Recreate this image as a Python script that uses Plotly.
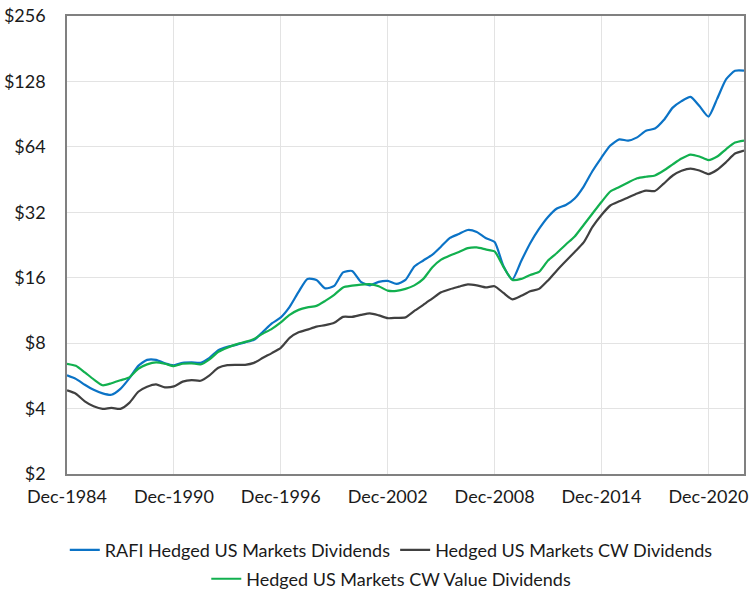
import pandas as pd
import plotly.graph_objects as go

# semi-annual observations, Dec-1984 .. Dec-2022
dates = pd.date_range("1984-12-31", "2022-12-31", freq="6ME")

rafi = [5.69, 5.48, 5.15, 4.88, 4.70, 4.63, 4.93, 5.51, 6.29, 6.70,
        6.70, 6.46, 6.33, 6.50, 6.53, 6.50, 6.85, 7.43, 7.69, 7.86,
        8.07, 8.28, 9.02, 9.86, 10.51, 11.75, 13.77, 15.80, 15.63, 14.29,
        14.67, 16.92, 17.19, 15.31, 14.75, 15.31, 15.47, 14.98, 15.63, 18.03,
        19.21, 20.37, 22.28, 24.38, 25.44, 26.53, 25.98, 24.38, 23.37, 18.13,
        15.72, 19.11, 23.05, 26.82, 30.45, 33.31, 34.58, 37.03, 42.04, 49.55,
        57.15, 64.88, 69.30, 68.43, 70.77, 75.88, 77.67, 85.00, 97.0, 103.9,
        108.7, 98.55, 88.2, 106.7, 131.1, 143.2, 143.5]

cw = [4.85, 4.68, 4.32, 4.10, 3.99, 4.03, 3.99, 4.25, 4.78, 5.04,
      5.17, 5.01, 5.06, 5.32, 5.41, 5.37, 5.69, 6.16, 6.34, 6.36,
      6.36, 6.49, 6.85, 7.20, 7.61, 8.46, 8.97, 9.23, 9.53, 9.68,
      9.92, 10.57, 10.57, 10.79, 10.97, 10.74, 10.42, 10.46, 10.51, 11.26,
      12.00, 12.83, 13.72, 14.17, 14.55, 14.92, 14.75, 14.44, 14.62, 13.62,
      12.72, 13.20, 13.87, 14.21, 15.55, 17.29, 19.11, 21.02, 23.25, 27.39,
      31.10, 34.39, 35.95, 37.43, 39.04, 40.22, 40.09, 43.36, 47.24, 49.65,
      50.87, 49.80, 47.99, 50.23, 54.49, 59.62, 61.54]

cw_value = [6.43, 6.29, 5.87, 5.45, 5.12, 5.23, 5.40, 5.57, 6.10, 6.39,
            6.53, 6.43, 6.27, 6.43, 6.46, 6.39, 6.74, 7.30, 7.63, 7.90,
            8.11, 8.37, 8.85, 9.31, 9.97, 10.79, 11.38, 11.69, 11.87, 12.52,
            13.34, 14.44, 14.70, 14.88, 14.94, 14.62, 13.96, 13.92, 14.21, 14.75,
            15.80, 17.84, 19.38, 20.26, 21.02, 21.88, 22.05, 21.59, 21.13, 17.94,
            15.63, 15.80, 16.48, 17.01, 19.21, 20.80, 22.76, 24.77, 27.98, 31.60,
            35.69, 39.88, 41.83, 43.86, 45.86, 46.64, 47.24, 49.80, 53.18, 56.55,
            58.99, 57.76, 55.66, 57.76, 62.53, 66.98, 68.43]

y_ticks = [2, 4, 8, 16, 32, 64, 128, 256]
x_ticks = ["1984-12-31", "1990-12-31", "1996-12-31", "2002-12-31",
           "2008-12-31", "2014-12-31", "2020-12-31"]
x_labels = ["Dec-1984", "Dec-1990", "Dec-1996", "Dec-2002",
            "Dec-2008", "Dec-2014", "Dec-2020"]

line_shape = dict(shape="spline", smoothing=0.6, width=2.2)

fig = go.Figure()
fig.add_trace(go.Scatter(x=dates, y=rafi, mode="lines", name="RAFI Hedged US Markets Dividends",
                         line=dict(color="#0b73c6", **line_shape), legend="legend"))
fig.add_trace(go.Scatter(x=dates, y=cw, mode="lines", name="Hedged US Markets CW Dividends",
                         line=dict(color="#404040", **line_shape), legend="legend"))
fig.add_trace(go.Scatter(x=dates, y=cw_value, mode="lines", name="Hedged US Markets CW Value Dividends",
                         line=dict(color="#12b04f", **line_shape), legend="legend2"))

fig.update_layout(
    width=751, height=592,
    margin=dict(l=67, r=7, t=16, b=118, autoexpand=False),
    plot_bgcolor="white", paper_bgcolor="white",
    font=dict(family="Lato", size=18, color="#1a1a1a"),
    legend=dict(orientation="h", x=0.479, xanchor="center", y=-0.126, yanchor="top",
                font=dict(size=18), itemwidth=30),
    legend2=dict(orientation="h", x=0.479, xanchor="center", y=-0.189, yanchor="top",
                 font=dict(size=18), itemwidth=30),
    xaxis=dict(type="date", range=["1984-12-31", "2022-12-31"],
               tickvals=x_ticks, ticktext=x_labels, automargin=False,
               showgrid=True, gridcolor="#e3e3e3", gridwidth=1,
               showline=True, linecolor="#808080", linewidth=1.5, mirror=True,
               ticks="", ticklabelstandoff=6, ticklabeloverflow="allow", zeroline=False),
    yaxis=dict(type="log", range=[0.30103, 2.40824], automargin=False,
               tickvals=y_ticks, ticktext=["$" + str(v) for v in y_ticks],
               showgrid=True, gridcolor="#e3e3e3", gridwidth=1,
               showline=True, linecolor="#808080", linewidth=1.5, mirror=True,
               ticks="", ticklabelstandoff=16, ticklabeloverflow="allow", zeroline=False),
)

# drop the default page margin so the figure sits at the window's corner
fig.write_html("out.html", config={"displayModeBar": False},
               post_script="document.body.style.margin='0';")
